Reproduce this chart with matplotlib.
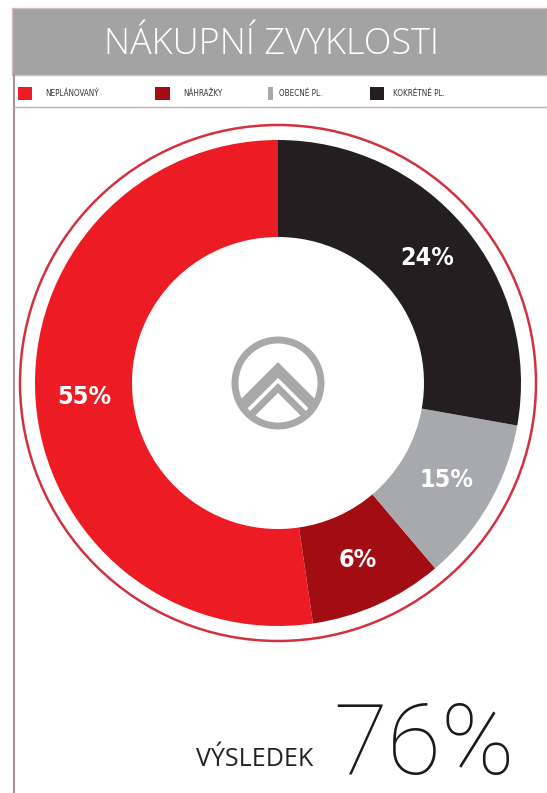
import numpy as np
import matplotlib.pyplot as plt
from matplotlib.patches import Rectangle, Circle

# data (wedge shares, labels as printed)
categories = ['NEPLÁNOVANÝ', 'NÁHRAŽKY', 'OBECNÉ PL.', 'KOKRÉTNÉ PL.']
shares = [52.3, 8.9, 11.0, 27.8]
pct_labels = ['55%', '6%', '15%', '24%']
colors = ['#ed1c24', '#a10d13', '#a7a9ac', '#231f20']
title = 'NÁKUPNÍ ZVYKLOSTI'
result_label = 'VÝSLEDEK'
result_value = '76%'

W, H = 547, 793
fig = plt.figure(figsize=(W / 100, H / 100), dpi=100)

# background axes in pixel coordinates (y down)
bg = fig.add_axes([0, 0, 1, 1])
bg.set_xlim(0, W)
bg.set_ylim(H, 0)
bg.axis('off')

# title bar
bg.add_patch(Rectangle((12, 8), W - 12, 67, facecolor='#a3a3a3', edgecolor='#d9b8bb', lw=1))
bg.text(272, 44, title, color='white', fontsize=26, ha='center', va='center',
        family=['Open Sans', 'DejaVu Sans'], fontweight='light')

# frame lines
bg.plot([14, 14], [75, H], color='#a89496', lw=1.5)
bg.plot([14, W], [107, 107], color='#c9a9ac', lw=1)

# legend row
sq_x = [18, 155, 268, 370]
sq_w = [14, 15, 5, 14]
txt_x = [45, 183, 279, 393]
for c, name, sx, sw, tx in zip(colors, categories, sq_x, sq_w, txt_x):
    bg.add_patch(Rectangle((sx, 87), sw, 13, facecolor=c, edgecolor='none'))
    bg.text(tx, 94, name, fontsize=5.8, color='#333333', va='center', ha='left',
            family=['DejaVu Sans'], fontstretch='condensed')

# bottom result
bg.text(313, 766, result_label, fontsize=18, color='#222222', ha='right', va='baseline',
        family=['Open Sans', 'DejaVu Sans'])
bg.text(333, 774, result_value, fontsize=71, color='#1a1a1a', ha='left', va='baseline',
        family=['Roboto', 'DejaVu Sans'], fontweight='light')

# donut axes
cx, cy, half = 278, 383, 270
ax = fig.add_axes([(cx - half) / W, (H - cy - half) / H, 2 * half / W, 2 * half / H])
ax.set_aspect('equal')
ax.axis('off')

r_out, r_in = 243, 146
wedges, texts = ax.pie(shares, colors=colors, labels=pct_labels, startangle=90,
                       counterclock=True, radius=r_out, labeldistance=0.8,
                       wedgeprops=dict(width=r_out - r_in, edgecolor='none'),
                       textprops=dict(color='white', fontsize=18, fontweight='bold',
                                      family=['DejaVu Sans'], fontstretch='condensed',
                                      ha='center', va='center'))
ax.set_xlim(-half, half)
ax.set_ylim(-half, half)

# outer ring
ax.add_patch(Circle((0, 0), 258, fill=False, edgecolor='#d2323f', lw=1.8))

# logo in the middle
logo = Circle((0, 0), 43, fill=False, edgecolor='#a8a8a8', lw=5)
ax.add_patch(logo)
clip = Circle((0, 0), 43, transform=ax.transData)
for apex, lw in [(13, 8), (-5, 5)]:
    xs = np.array([-60, 0, 60])
    ys = apex - np.abs(xs)
    ln, = ax.plot(xs, ys, color='#a8a8a8', lw=lw, solid_joinstyle='miter')
    ln.set_clip_path(clip)

fig.savefig('out.png', dpi=100, facecolor='white')
